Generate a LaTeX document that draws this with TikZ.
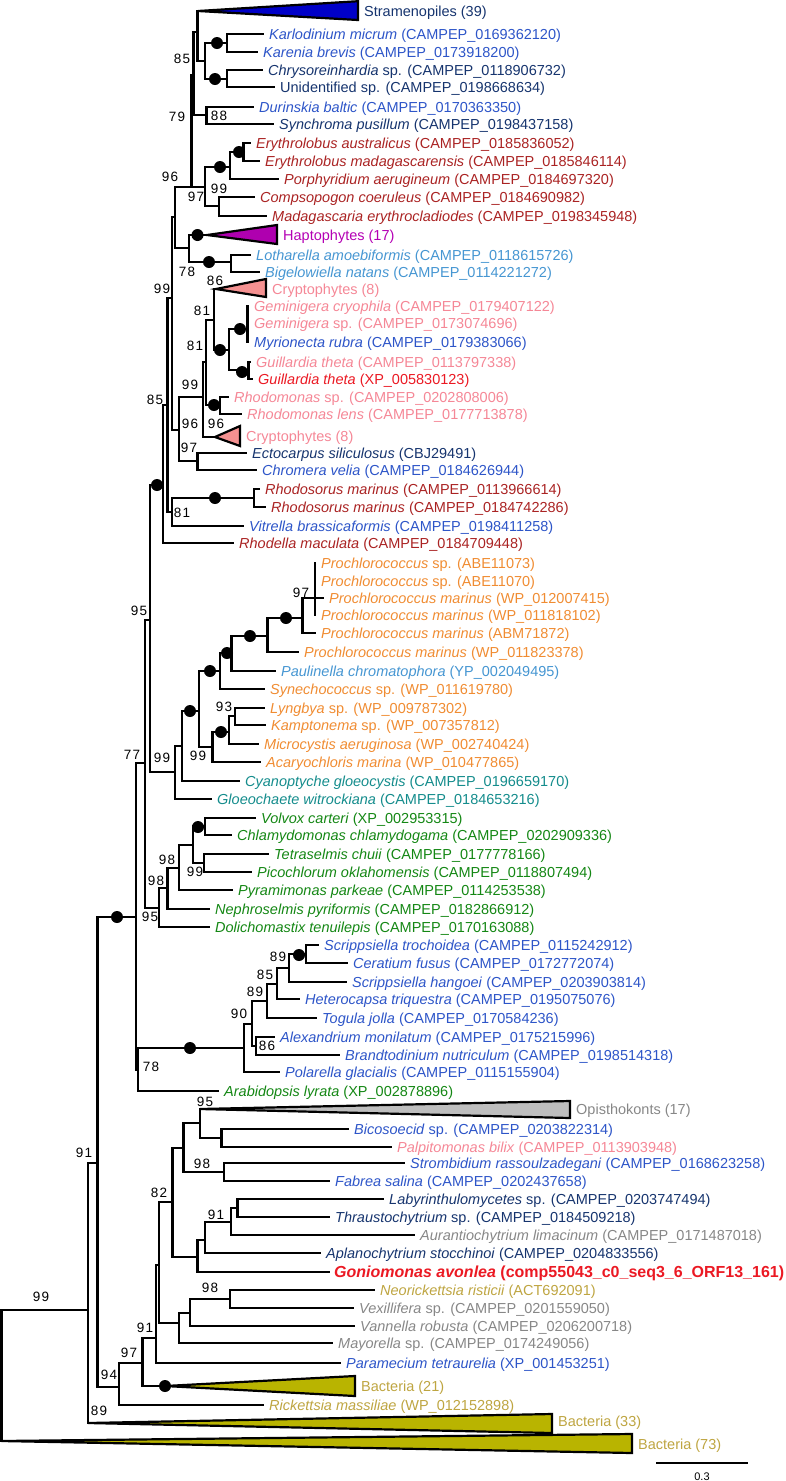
\documentclass[tikz,border=0pt]{standalone}
\usepackage{fontspec}
\setmainfont{Liberation Sans}
\newfontfamily\supfont[LetterSpace=8]{Liberation Sans}
\definecolor{navy}{RGB}{22,52,110}
\definecolor{blu}{RGB}{45,85,200}
\definecolor{lblue}{RGB}{70,150,210}
\definecolor{dred}{RGB}{170,35,35}
\definecolor{pnk}{RGB}{245,135,150}
\definecolor{gred}{RGB}{235,25,35}
\definecolor{mag}{RGB}{180,0,180}
\definecolor{orng}{RGB}{240,140,50}
\definecolor{tealc}{RGB}{20,140,140}
\definecolor{grn}{RGB}{20,135,20}
\definecolor{gry}{RGB}{135,135,135}
\definecolor{olvt}{RGB}{190,165,65}
\definecolor{sfill}{RGB}{0,0,200}
\definecolor{hfill}{RGB}{175,0,175}
\definecolor{cfill}{RGB}{245,145,145}
\definecolor{ofill}{RGB}{190,190,190}
\definecolor{bfill}{RGB}{185,180,0}
\tikzset{
  br/.style={line width=2.6pt,line cap=rect,line join=miter},
  leaf/.style={anchor=west,inner xsep=6pt,inner ysep=0pt,text height=10pt,text depth=0pt,font=\fontsize{14.5}{16}\selectfont},
  sv/.style={inner sep=0pt,font=\supfont\fontsize{13.5}{15}\selectfont},
  dot/.style={circle,fill=black,inner sep=0pt,minimum size=12pt},
  tri/.style={draw=black,line width=2.2pt,line join=miter},
}
\begin{document}
\begin{tikzpicture}[x=1pt,y=-1pt]
\useasboundingbox (0,0) rectangle (785,1481);

% ---------- internal nodes ----------
\coordinate (nK) at (227,43);
\coordinate (nC) at (227,79);
\coordinate (n85) at (205,61);
\coordinate (nA) at (197.5,32);
\coordinate (tS) at (198,11);
\coordinate (n88) at (206.5,115);
\coordinate (nB) at (193.5,75);
\coordinate (nE) at (243.5,152);
\coordinate (nEP) at (230,167);
\coordinate (n99) at (219,206);
\coordinate (nR) at (205,187);
\coordinate (n79) at (191.5,187);
\coordinate (nLB) at (231,262);
\coordinate (tH) at (207,235);
\coordinate (nE2) at (189,248);
\coordinate (nD) at (175,217);
\coordinate (F) at (172,298);
\coordinate (W) at (179,430);
\coordinate (n97) at (197.5,461);
\coordinate (X) at (203,397);
\coordinate (X1) at (206,362);
\coordinate (Q1) at (214,320);
\coordinate (tC1) at (216,289);
\coordinate (P1) at (229,350);
\coordinate (nGeM) at (247.5,329);
\coordinate (nGu) at (248.5,370);
\coordinate (nRh) at (220,405);
\coordinate (tC2) at (215,437);
\coordinate (H) at (167.5,405);
\coordinate (V) at (172,512);
\coordinate (nRr) at (254,498);
\coordinate (U) at (163,485);
\coordinate (N95) at (150,620);
\coordinate (nGl) at (175,772);
\coordinate (nCy) at (182,746);
\coordinate (nP8) at (199,711);
\coordinate (nP7) at (220,671);
\coordinate (nP6) at (231.5,653);
\coordinate (nP5) at (267.5,636);
\coordinate (nP4) at (302.5,618);
\coordinate (nP3) at (315,598);
\coordinate (nP1) at (315,572);
\coordinate (nLK) at (235,716);
\coordinate (nLKM) at (229,732);
\coordinate (nLKMA) at (212.5,747);
\coordinate (N77) at (145,763);
\coordinate (nVC) at (205,826);
\coordinate (nTP) at (204,863);
\coordinate (nG3) at (193,845);
\coordinate (nG4) at (179,868);
\coordinate (nG5) at (167.5,888);
\coordinate (nG6) at (159,908);
\coordinate (N136) at (136,917);
\coordinate (nSC) at (306,954);
\coordinate (nD2) at (289,968);
\coordinate (nD3) at (277,984);
\coordinate (nD4) at (267,1001);
\coordinate (nD5) at (256,1046);
\coordinate (nD6) at (252,1024);
\coordinate (nD7) at (244,1048);
\coordinate (N78) at (138,1070);
\coordinate (N91) at (97.5,1163);
\coordinate (nBP) at (221.5,1138);
\coordinate (tOp) at (200,1109);
\coordinate (nOp) at (200,1123);
\coordinate (nSF) at (224,1172);
\coordinate (nOS) at (183.5,1148);
\coordinate (nLT) at (237.5,1208);
\coordinate (nLTA) at (231,1222);
\coordinate (nLTAA) at (205,1240);
\coordinate (nG) at (197.5,1257);
\coordinate (N82) at (172.5,1202);
\coordinate (nNV) at (230,1299);
\coordinate (nA2) at (190,1313);
\coordinate (nA3) at (179,1323);
\coordinate (X9) at (159,1265);
\coordinate (N91b) at (156,1338);
\coordinate (N97) at (142.5,1363);
\coordinate (tB21) at (165,1386);
\coordinate (N94) at (119,1387);
\coordinate (N88) at (88,1310);
\coordinate (tB33) at (88,1423);
\coordinate (root) at (1.3,1441);
\coordinate (tB73) at (1.3,1441);

% ---------- collapsed clades ----------
\filldraw[tri,fill=sfill] (tS) -- (358,1.2) -- (358,20) -- cycle;
\filldraw[tri,fill=hfill] (tH) -- (277,225) -- (277,244) -- cycle;
\filldraw[tri,fill=cfill] (tC1) -- (266,279) -- (266,297) -- cycle;
\filldraw[tri,fill=cfill] (tC2) -- (240,426) -- (240,446) -- cycle;
\filldraw[tri,fill=ofill] (tOp) -- (570,1101) -- (570,1118) -- cycle;
\filldraw[tri,fill=bfill] (tB21) -- (355,1376) -- (355,1396) -- cycle;
\filldraw[tri,fill=bfill] (tB33) -- (552,1414) -- (552,1433) -- cycle;
\filldraw[tri,fill=bfill] (tB73) -- (632,1434) -- (632,1453) -- cycle;

% ---------- leaves ----------
\node[leaf,text=navy] (lS) at (358,11) {Stramenopiles (39)};
\node[leaf,text=blu] (l2) at (263,34) {\textit{Karlodinium micrum} (CAMPEP\_0169362120)};
\node[leaf,text=blu] (l3) at (257,52) {\textit{Karenia brevis} (CAMPEP\_0173918200)};
\node[leaf,text=navy] (l4) at (262,70) {\textit{Chrysoreinhardia} sp. (CAMPEP\_0118906732)};
\node[leaf,text=navy] (l5) at (274,87) {Unidentified sp. (CAMPEP\_0198668634)};
\node[leaf,text=blu] (l6) at (253,107) {\textit{Durinskia baltic} (CAMPEP\_0170363350)};
\node[leaf,text=navy] (l7) at (273,124) {\textit{Synchroma pusillum} (CAMPEP\_0198437158)};
\node[leaf,text=dred] (l8) at (250,143) {\textit{Erythrolobus australicus} (CAMPEP\_0185836052)};
\node[leaf,text=dred] (l9) at (259,161) {\textit{Erythrolobus madagascarensis} (CAMPEP\_0185846114)};
\node[leaf,text=dred] (l10) at (278,179) {\textit{Porphyridium aerugineum} (CAMPEP\_0184697320)};
\node[leaf,text=dred] (l11) at (254,197) {\textit{Compsopogon coeruleus} (CAMPEP\_0184690982)};
\node[leaf,text=dred] (l12) at (266,216) {\textit{Madagascaria erythrocladiodes} (CAMPEP\_0198345948)};
\node[leaf,text=mag] (lH) at (277,235) {Haptophytes (17)};
\node[leaf,text=lblue] (l14) at (250,255) {\textit{Lotharella amoebiformis} (CAMPEP\_0118615726)};
\node[leaf,text=lblue] (l15) at (259,272) {\textit{Bigelowiella natans} (CAMPEP\_0114221272)};
\node[leaf,text=pnk] (lC1) at (266,289) {Cryptophytes (8)};
\node[leaf,text=pnk] (l17) at (248,306) {\textit{Geminigera cryophila} (CAMPEP\_0179407122)};
\node[leaf,text=pnk] (l18) at (248,323) {\textit{Geminigera} sp. (CAMPEP\_0173074696)};
\node[leaf,text=blu] (l19) at (248,342) {\textit{Myrionecta rubra} (CAMPEP\_0179383066)};
\node[leaf,text=pnk] (l20) at (250,362) {\textit{Guillardia theta} (CAMPEP\_0113797338)};
\node[leaf,text=gred] (l21) at (252,379) {\textit{Guillardia theta} (XP\_005830123)};
\node[leaf,text=pnk] (l22) at (228,397) {\textit{Rhodomonas} sp. (CAMPEP\_0202808006)};
\node[leaf,text=pnk] (l23) at (241,414) {\textit{Rhodomonas lens} (CAMPEP\_0177713878)};
\node[leaf,text=pnk] (lC2) at (240,436) {Cryptophytes (8)};
\node[leaf,text=navy] (l25) at (246,453) {\textit{Ectocarpus siliculosus} (CBJ29491)};
\node[leaf,text=blu] (l26) at (256,470) {\textit{Chromera velia} (CAMPEP\_0184626944)};
\node[leaf,text=dred] (l27) at (259,489) {\textit{Rhodosorus marinus} (CAMPEP\_0113966614)};
\node[leaf,text=dred] (l28) at (265,507) {\textit{Rhodosorus marinus} (CAMPEP\_0184742286)};
\node[leaf,text=blu] (l29) at (243,526) {\textit{Vitrella brassicaformis} (CAMPEP\_0198411258)};
\node[leaf,text=dred] (l30) at (233,543) {\textit{Rhodella maculata} (CAMPEP\_0184709448)};
\node[leaf,text=orng] (l31) at (315,563) {\textit{Prochlorococcus} sp. (ABE11073)};
\node[leaf,text=orng] (l32) at (315,581) {\textit{Prochlorococcus} sp. (ABE11070)};
\node[leaf,text=orng] (l33) at (323,598) {\textit{Prochlorococcus marinus} (WP\_012007415)};
\node[leaf,text=orng] (l34) at (315,615) {\textit{Prochlorococcus marinus} (WP\_011818102)};
\node[leaf,text=orng] (l35) at (315,633) {\textit{Prochlorococcus marinus} (ABM71872)};
\node[leaf,text=orng] (l36) at (298,652) {\textit{Prochlorococcus marinus} (WP\_011823378)};
\node[leaf,text=lblue] (l37) at (275,671) {\textit{Paulinella chromatophora} (YP\_002049495)};
\node[leaf,text=orng] (l38) at (264,689) {\textit{Synechococcus} sp. (WP\_011619780)};
\node[leaf,text=orng] (l39) at (264,708) {\textit{Lyngbya} sp. (WP\_009787302)};
\node[leaf,text=orng] (l40) at (265,725) {\textit{Kamptonema} sp. (WP\_007357812)};
\node[leaf,text=orng] (l41) at (258,744) {\textit{Microcystis aeruginosa} (WP\_002740424)};
\node[leaf,text=orng] (l42) at (260,762) {\textit{Acaryochloris marina} (WP\_010477865)};
\node[leaf,text=tealc] (l43) at (239,781) {\textit{Cyanoptyche gloeocystis} (CAMPEP\_0196659170)};
\node[leaf,text=tealc] (l44) at (211,799) {\textit{Gloeochaete witrockiana} (CAMPEP\_0184653216)};
\node[leaf,text=grn] (l45) at (255,818) {\textit{Volvox carteri} (XP\_002953315)};
\node[leaf,text=grn] (l46) at (231,835) {\textit{Chlamydomonas chlamydogama} (CAMPEP\_0202909336)};
\node[leaf,text=grn] (l47) at (268,854) {\textit{Tetraselmis chuii} (CAMPEP\_0177778166)};
\node[leaf,text=grn] (l48) at (251,872) {\textit{Picochlorum oklahomensis} (CAMPEP\_0118807494)};
\node[leaf,text=grn] (l49) at (232,890) {\textit{Pyramimonas parkeae} (CAMPEP\_0114253538)};
\node[leaf,text=grn] (l50) at (209,909) {\textit{Nephroselmis pyriformis} (CAMPEP\_0182866912)};
\node[leaf,text=grn] (l51) at (209,927) {\textit{Dolichomastix tenuilepis} (CAMPEP\_0170163088)};
\node[leaf,text=blu] (l52) at (318,945) {\textit{Scrippsiella trochoidea} (CAMPEP\_0115242912)};
\node[leaf,text=blu] (l53) at (347,963) {\textit{Ceratium fusus} (CAMPEP\_0172772074)};
\node[leaf,text=blu] (l54) at (346,982) {\textit{Scrippsiella hangoei} (CAMPEP\_0203903814)};
\node[leaf,text=blu] (l55) at (299,999) {\textit{Heterocapsa triquestra} (CAMPEP\_0195075076)};
\node[leaf,text=blu] (l56) at (316,1018) {\textit{Togula jolla} (CAMPEP\_0170584236)};
\node[leaf,text=blu] (l57) at (274,1037) {\textit{Alexandrium monilatum} (CAMPEP\_0175215996)};
\node[leaf,text=blu] (l58) at (339,1055) {\textit{Brandtodinium nutriculum} (CAMPEP\_0198514318)};
\node[leaf,text=blu] (l59) at (279,1072) {\textit{Polarella glacialis} (CAMPEP\_0115155904)};
\node[leaf,text=grn] (l60) at (218,1091) {\textit{Arabidopsis lyrata} (XP\_002878896)};
\node[leaf,text=gry] (lOp) at (570,1109) {Opisthokonts (17)};
\node[leaf,text=blu] (l62) at (348,1129) {\textit{Bicosoecid} sp. (CAMPEP\_0203822314)};
\node[leaf,text=pnk] (l63) at (391,1147) {\textit{Palpitomonas bilix} (CAMPEP\_0113903948)};
\node[leaf,text=blu] (l64) at (404,1163) {\textit{Strombidium rassoulzadegani} (CAMPEP\_0168623258)};
\node[leaf,text=blu] (l65) at (329,1181) {\textit{Fabrea salina} (CAMPEP\_0202437658)};
\node[leaf,text=navy] (l66) at (383,1199) {\textit{Labyrinthulomycetes} sp. (CAMPEP\_0203747494)};
\node[leaf,text=navy] (l67) at (329,1217) {\textit{Thraustochytrium} sp. (CAMPEP\_0184509218)};
\node[leaf,text=gry] (l68) at (414,1235) {\textit{Aurantiochytrium limacinum} (CAMPEP\_0171487018)};
\node[leaf,text=navy] (l69) at (320,1253) {\textit{Aplanochytrium stocchinoi} (CAMPEP\_0204833556)};
\node[leaf,text=gred,inner xsep=5pt,font=\fontsize{16}{17}\selectfont\bfseries] (l70) at (329,1272) {\textit{Goniomonas avonlea} (comp55043\_c0\_seq3\_6\_ORF13\_161)};
\node[leaf,text=olvt] (l71) at (374,1290) {\textit{Neorickettsia risticii} (ACT692091)};
\node[leaf,text=gry] (l72) at (353,1308) {\textit{Vexillifera} sp. (CAMPEP\_0201559050)};
\node[leaf,text=gry] (l73) at (354,1326) {\textit{Vannella robusta} (CAMPEP\_0206200718)};
\node[leaf,text=gry] (l74) at (332,1343) {\textit{Mayorella} sp. (CAMPEP\_0174249056)};
\node[leaf,text=blu] (l75) at (340,1363) {\textit{Paramecium tetraurelia} (XP\_001453251)};
\node[leaf,text=olvt] (lB21) at (355,1386) {Bacteria (21)};
\node[leaf,text=olvt] (l77) at (263,1405) {\textit{Rickettsia massiliae} (WP\_012152898)};
\node[leaf,text=olvt] (lB33) at (552,1421) {Bacteria (33)};
\node[leaf,text=olvt] (lB73) at (632,1444) {Bacteria (73)};

% ---------- branches ----------
\begin{scope}[br]
\draw (nK) |- (l2.west); \draw (nK) |- (l3.west);
\draw (nC) |- (l4.west); \draw (nC) |- (l5.west);
\draw (n85) |- (nK); \draw (n85) |- (nC);
\draw (nA) |- (tS); \draw (nA) |- (n85);
\draw (n88) |- (l6.west); \draw (n88) |- (l7.west);
\draw (nB) |- (nA); \draw (nB) |- (n88);
\draw (nE) |- (l8.west); \draw (nE) |- (l9.west);
\draw (nEP) |- (nE); \draw (nEP) |- (l10.west);
\draw (n99) |- (l11.west); \draw (n99) |- (l12.west);
\draw (nR) |- (nEP); \draw (nR) |- (n99);
\draw (n79) |- (nB); \draw (n79) |- (nR);
\draw (nLB) |- (l14.west); \draw (nLB) |- (l15.west);
\draw (nE2) |- (tH); \draw (nE2) |- (nLB);
\draw (nD) |- (n79); \draw (nD) |- (nE2);
\draw (F) |- (nD); \draw (F) |- (W);
\draw (W) |- (X); \draw (W) |- (n97);
\draw (n97) |- (l25.west); \draw (n97) |- (l26.west);
\draw (X) |- (X1); \draw (X) |- (tC2);
\draw (X1) |- (Q1); \draw (X1) |- (nRh);
\draw (Q1) |- (tC1); \draw (Q1) |- (P1);
\draw (P1) |- (nGeM); \draw (P1) |- (nGu);
\draw (nGeM) |- (l17.west); \draw (nGeM) |- (l18.west); \draw (nGeM) |- (l19.west);
\draw (nGu) |- (l20.west); \draw (nGu) |- (l21.west);
\draw (nRh) |- (l22.west); \draw (nRh) |- (l23.west);
\draw (H) |- (F); \draw (H) |- (V);
\draw (V) |- (nRr); \draw (V) |- (l29.west);
\draw (nRr) |- (l27.west); \draw (nRr) |- (l28.west);
\draw (U) |- (H); \draw (U) |- (l30.west);
\draw (N95) |- (U); \draw (N95) |- (nGl);
\draw (nGl) |- (nCy); \draw (nGl) |- (l44.west);
\draw (nCy) |- (nP8); \draw (nCy) |- (l43.west);
\draw (nP8) |- (nP7); \draw (nP8) |- (nLKMA);
\draw (nP7) |- (nP6); \draw (nP7) |- (l38.west);
\draw (nP6) |- (nP5); \draw (nP6) |- (l37.west);
\draw (nP5) |- (nP4); \draw (nP5) |- (l36.west);
\draw (nP4) |- (nP3); \draw (nP4) |- (l35.west);
\draw (nP3) |- (nP1); \draw (nP3) |- (l33.west); \draw (nP3) |- (l34.west);
\draw (nP1) |- (l31.west); \draw (nP1) |- (l32.west);
\draw (nLK) |- (l39.west); \draw (nLK) |- (l40.west);
\draw (nLKM) |- (nLK); \draw (nLKM) |- (l41.west);
\draw (nLKMA) |- (nLKM); \draw (nLKMA) |- (l42.west);
\draw (N77) |- (N95); \draw (N77) |- (nG6);
\draw (nVC) |- (l45.west); \draw (nVC) |- (l46.west);
\draw (nTP) |- (l47.west); \draw (nTP) |- (l48.west);
\draw (nG3) |- (nVC); \draw (nG3) |- (nTP);
\draw (nG4) |- (nG3); \draw (nG4) |- (l49.west);
\draw (nG5) |- (nG4); \draw (nG5) |- (l50.west);
\draw (nG6) |- (nG5); \draw (nG6) |- (l51.west);
\draw (N136) |- (N77); \draw (N136) |- (N78);
\draw (nSC) |- (l52.west); \draw (nSC) |- (l53.west);
\draw (nD2) |- (nSC); \draw (nD2) |- (l54.west);
\draw (nD3) |- (nD2); \draw (nD3) |- (l55.west);
\draw (nD4) |- (nD3); \draw (nD4) |- (l56.west);
\draw (nD5) |- (l57.west); \draw (nD5) |- (l58.west);
\draw (nD6) |- (nD4); \draw (nD6) |- (nD5);
\draw (nD7) |- (nD6); \draw (nD7) |- (l59.west);
\draw (N78) |- (nD7); \draw (N78) |- (l60.west);
\draw (N91) |- (N136); \draw (N91) |- (N94);
\draw (nBP) |- (l62.west); \draw (nBP) |- (l63.west);
\draw (nOp) |- (tOp); \draw (nOp) |- (nBP);
\draw (nSF) |- (l64.west); \draw (nSF) |- (l65.west);
\draw (nOS) |- (nOp); \draw (nOS) |- (nSF);
\draw (nLT) |- (l66.west); \draw (nLT) |- (l67.west);
\draw (nLTA) |- (nLT); \draw (nLTA) |- (l68.west);
\draw (nLTAA) |- (nLTA); \draw (nLTAA) |- (l69.west);
\draw (nG) |- (nLTAA); \draw (nG) |- (l70.west);
\draw (N82) |- (nOS); \draw (N82) |- (nG);
\draw (nNV) |- (l71.west); \draw (nNV) |- (l72.west);
\draw (nA2) |- (nNV); \draw (nA2) |- (l73.west);
\draw (nA3) |- (nA2); \draw (nA3) |- (l74.west);
\draw (X9) |- (N82); \draw (X9) |- (nA3);
\draw (N91b) |- (X9); \draw (N91b) |- (l75.west);
\draw (N97) |- (N91b); \draw (N97) |- (tB21);
\draw (N94) |- (N97); \draw (N94) |- (l77.west);
\draw (N88) |- (N91); \draw (N88) |- (tB33);
\draw (root) |- (N88);
\end{scope}

% ---------- full-support dots ----------
\foreach \px/\py [count=\i] in {217/43,215/79,239/152,220/167,197.5/235,209/262,240/329,220/350,242/372,214/405,215/498,157/485,286/618,250/636,227/653,210/671,190/711,221/732,198/827,117/917,299/955,190/1048,165/1386}
  \node[dot] (d\i) at (\px,\py) {};

% ---------- support values ----------
\foreach \px/\py/\t [count=\i] in {182/59/85,177/117/79,219/116/88,170/177/96,196/197/97,219/189/99,187/272/78,215/281/86,162/289/99,202/311/81,195/346/81,190/385/99,155/400/85,190/424/96,216/424/96,189/448/97,182/513/81,301/593/97,139/611/95,224/707/93,132/755/77,162/758/99,198/756/99,167/860/98,156/881/98,195/872/99,150/917/95,278/957/89,265/975/85,255/992/89,239/1014/90,267/1046/86,151/1067/78,205/1102/95,84/1153/91,202/1164/98,159/1193/82,216/1215/91,210/1288/98,41/1297/99,145/1328/91,129/1353/97,109/1375/94,99/1411/89}
  \node[sv] (s\i) at (\px,\py) {\t};

% ---------- scale bar ----------
\coordinate (sbA) at (656,1463);
\coordinate (sbB) at (748,1463);
\draw[line width=2.2pt] (sbA) -- (sbB);
\node[font=\fontsize{11}{12}\selectfont,inner sep=0pt] (sbl) at (702,1477) {0.3};
\end{tikzpicture}
\end{document}
